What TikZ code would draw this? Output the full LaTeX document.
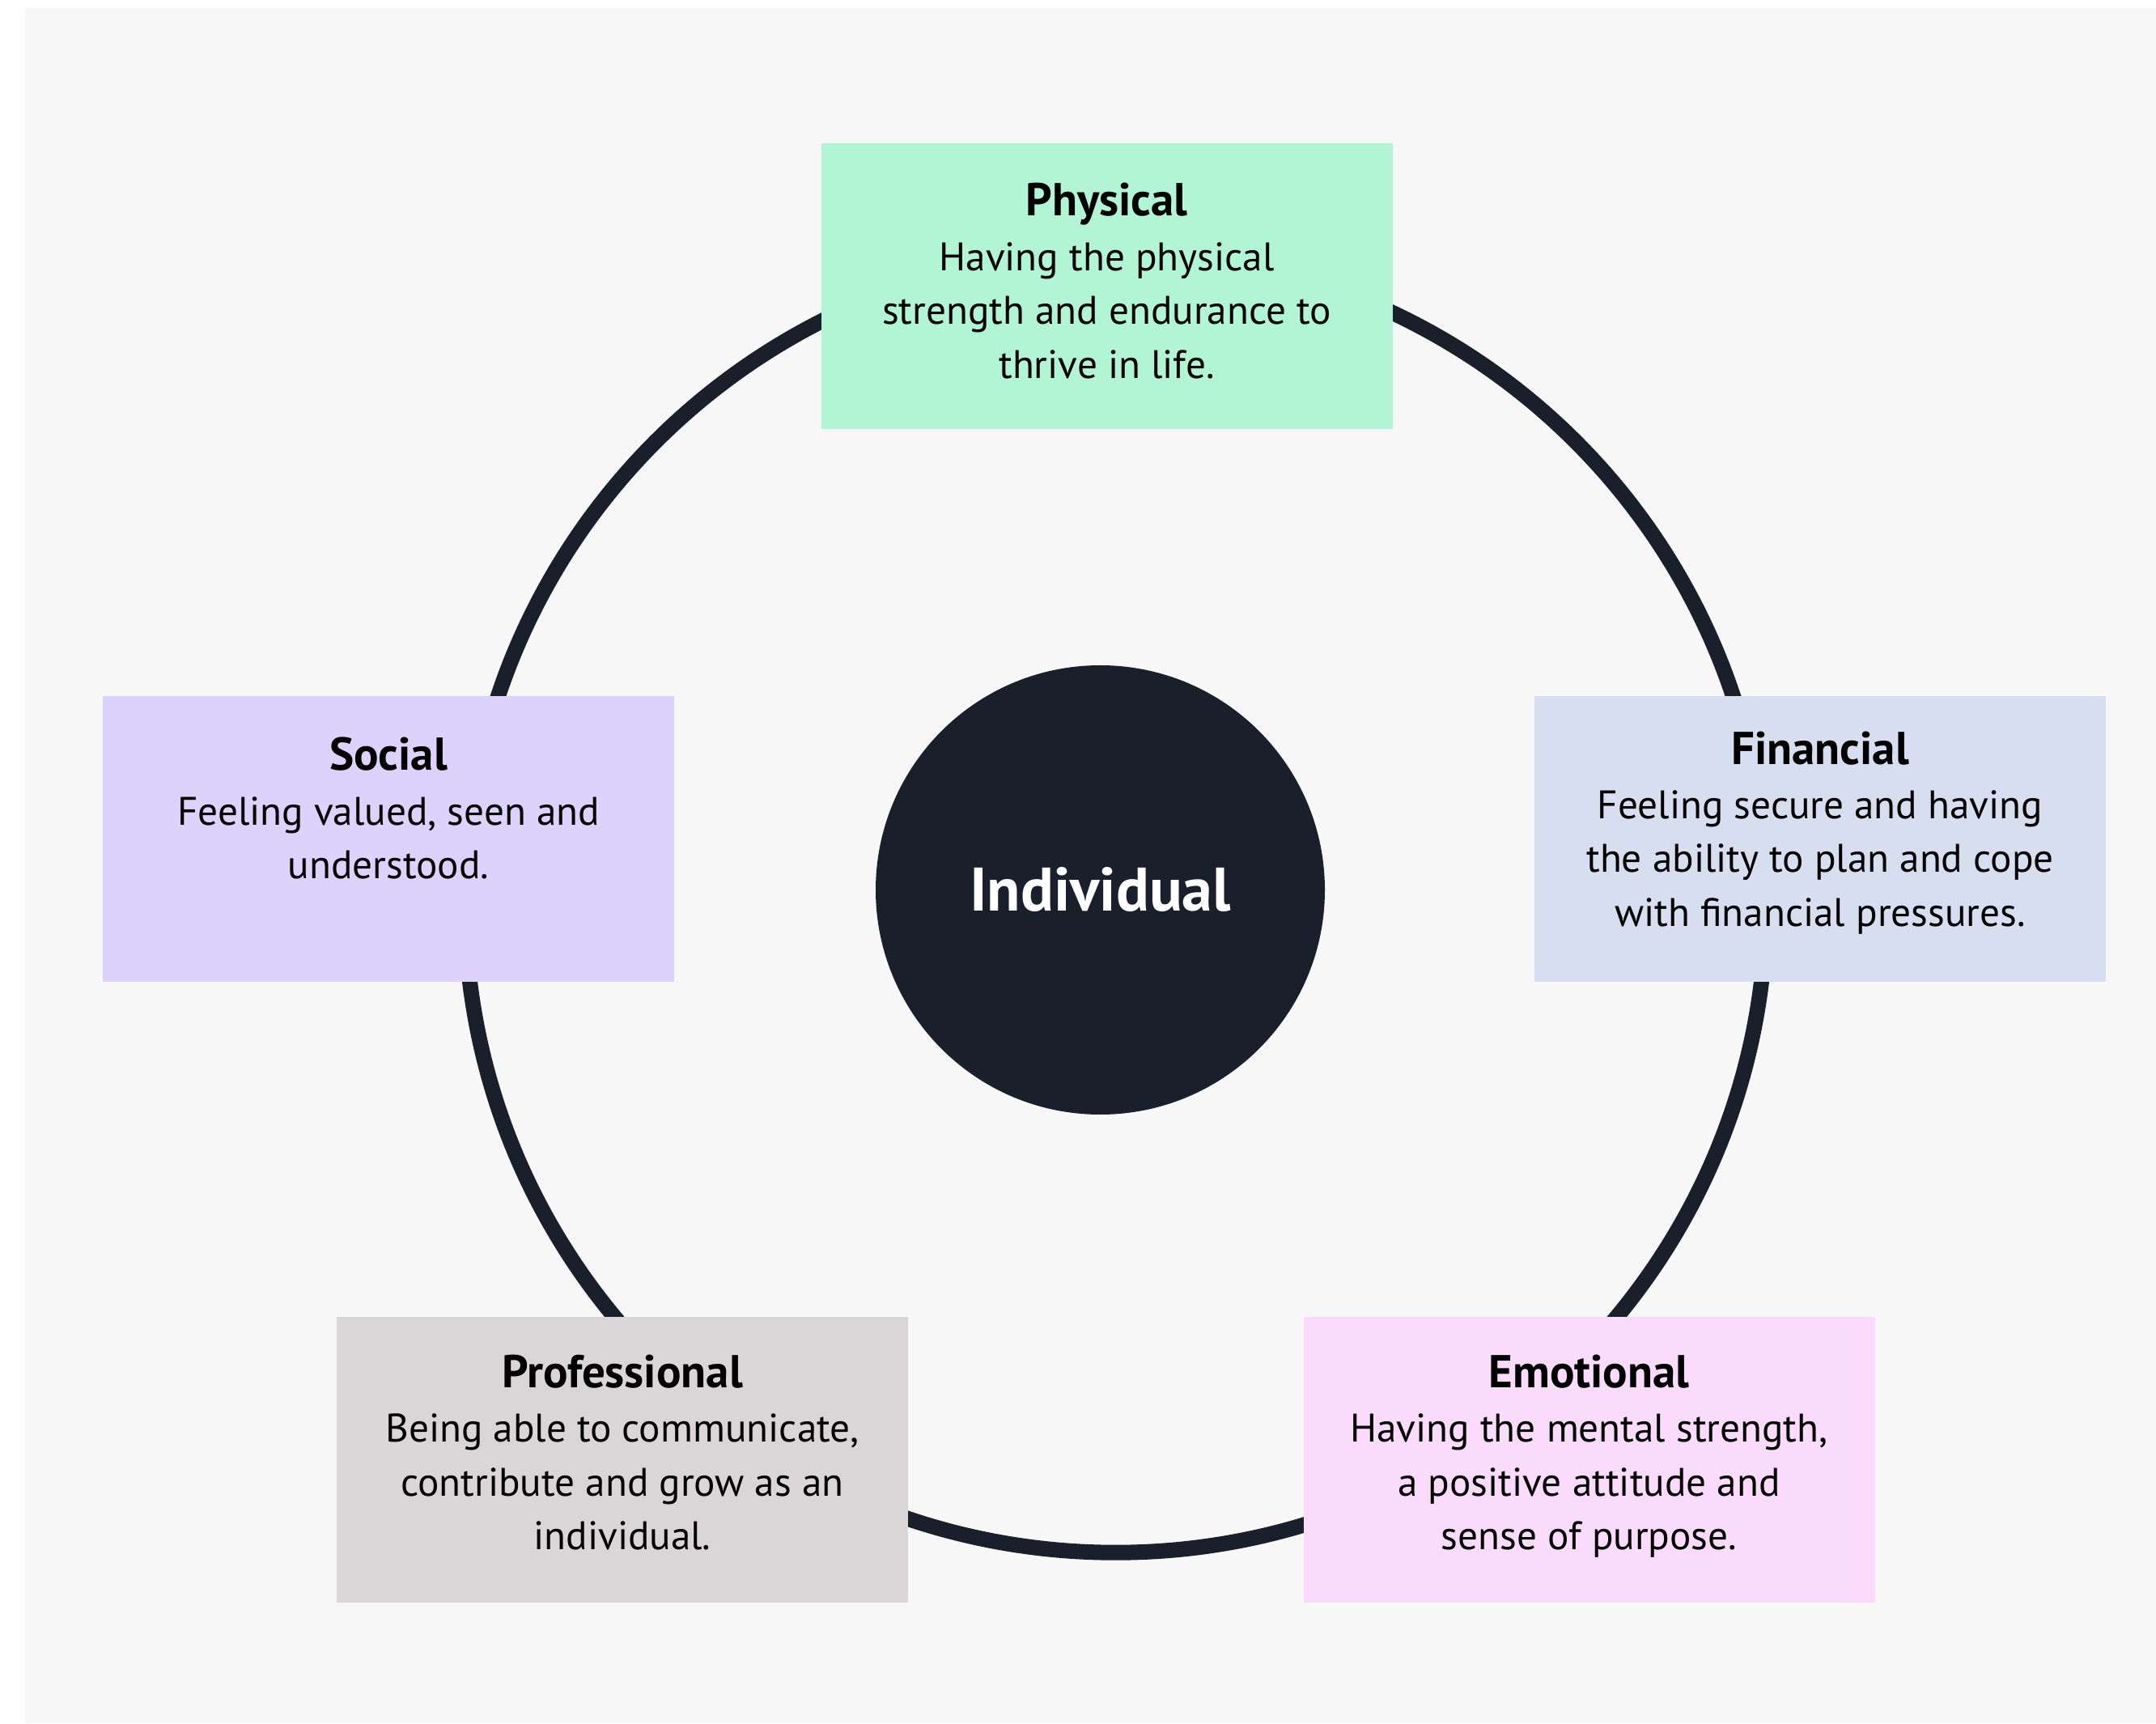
\documentclass[tikz,border=0pt]{standalone}
\usepackage{fontspec}
\setmainfont{PT Sans}
\usepackage{tikz}
\usetikzlibrary{calc}
\definecolor{backColor}{HTML}{F7F7F7}
\definecolor{darkColor}{HTML}{19202B}
\definecolor{physicalColor}{HTML}{B1F5D4}
\definecolor{socialColor}{HTML}{DCD2FB}
\definecolor{financialColor}{HTML}{D6DEF0}
\definecolor{professionalColor}{HTML}{DAD6D7}
\definecolor{emotionalColor}{HTML}{FBDBFC}

\tikzset{
    areaBox/.style={rectangle, minimum width=7.06cm, minimum height=3.53cm, inner sep=0pt},
    areaTitle/.style={anchor=base, inner sep=0pt, font=\bfseries\fontsize{16.2pt}{19pt}\selectfont},
    % base sits on the last line here
    areaText/.style={anchor=base, inner sep=0pt, align=center, font=\fontsize{14pt}{18.9pt}\selectfont}
}

\begin{document}
\begin{tikzpicture}
    \useasboundingbox (0,0) rectangle (26.64,21.29);
    \fill[backColor] (0.31,0) rectangle (26.64,21.19);

    % ring and centre
    \draw[darkColor, line width=0.19cm] (13.785,10.148) circle (8.04);
    \node[circle, fill=darkColor, minimum size=5.55cm, inner sep=0pt, text=white,
          font=\bfseries\fontsize{21.6pt}{24pt}\selectfont] (individual) at (13.595,10.295) {Individual};

    % the five areas
    \node[areaBox, fill=physicalColor] (physical) at (13.675,17.755) {};
    \node[areaBox, fill=socialColor] (social) at (4.80,10.925) {};
    \node[areaBox, fill=financialColor] (financial) at (22.49,10.925) {};
    \node[areaBox, fill=professionalColor] (professional) at (7.69,3.26) {};
    \node[areaBox, fill=emotionalColor] (emotional) at (19.635,3.26) {};

    \node[areaTitle] (physicalTitle) at ($(physical.north)+(0,-0.90)$) {Physical};
    \node[areaText] (physicalText) at ($(physical.north)+(0,-2.91)$)
        {Having the physical\\strength and endurance to\\thrive in life.};

    \node[areaTitle] (socialTitle) at ($(social.north)+(0,-0.92)$) {Social};
    \node[areaText] (socialText) at ($(social.north)+(0,-2.265)$)
        {Feeling valued, seen and\\understood.};

    \node[areaTitle] (financialTitle) at ($(financial.north)+(0,-0.85)$) {Financial};
    \node[areaText] (financialText) at ($(financial.north)+(0,-2.85)$)
        {Feeling secure and having\\the ability to plan and cope\\with financial pressures.};

    \node[areaTitle] (professionalTitle) at ($(professional.north)+(0,-0.89)$) {Professional};
    \node[areaText] (professionalText) at ($(professional.north)+(0,-2.89)$)
        {Being able to communicate,\\contribute and grow as an\\individual.};

    \node[areaTitle] (emotionalTitle) at ($(emotional.north)+(0,-0.89)$) {Emotional};
    \node[areaText] (emotionalText) at ($(emotional.north)+(0,-2.89)$)
        {Having the mental strength,\\a positive attitude and\\sense of purpose.};
\end{tikzpicture}
\end{document}
